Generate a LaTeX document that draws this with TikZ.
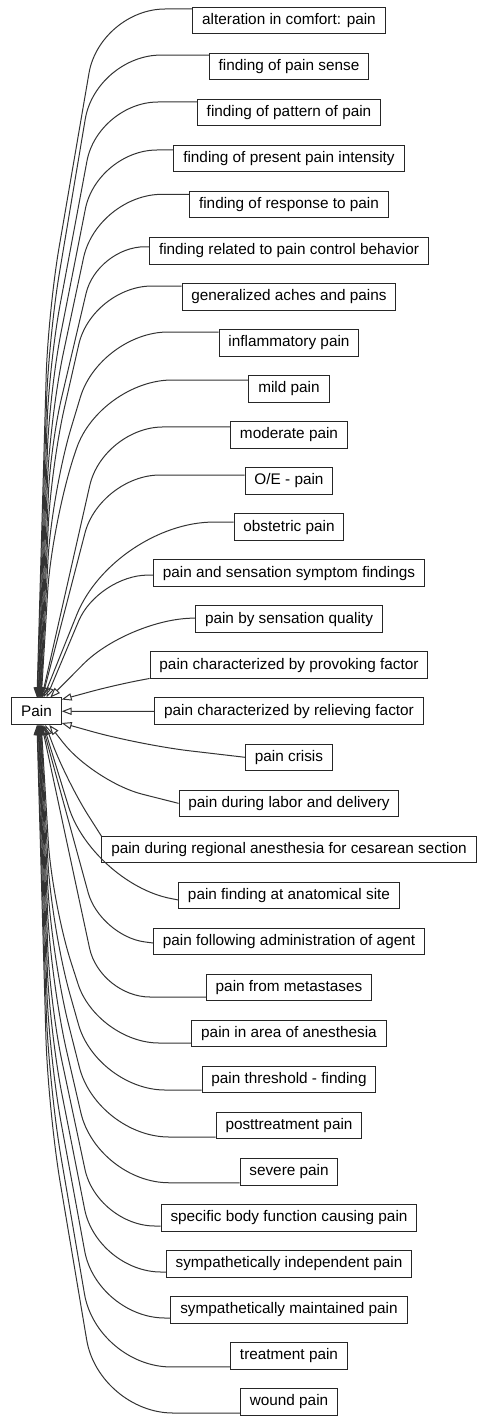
\documentclass[tikz,border=0pt]{standalone}
\usepackage{fontspec}
\setmainfont{Liberation Sans}
\usetikzlibrary{arrows.meta, calc}

\tikzset{
  concept/.style={draw=black!85, line width=0.75pt, fill=white,
    font=\fontsize{11.5}{13}\selectfont, inner xsep=7pt, inner ysep=2pt,
    minimum height=19.9pt},
  isa/.style={draw=black!80, line width=0.75pt,
    -{Triangle[open, length=7.5pt, width=5.5pt]}},
}

\begin{document}
\begin{tikzpicture}[x=0.75pt, y=-0.75pt]
  \useasboundingbox (0,0) rectangle (476,1416);
  % parent concept
  \node[concept] (pain) at (36.5,711.25) {Pain};
  % child concepts, one row every 46.05px
  \foreach \i/\txt in {0/alteration in comfort: pain, 1/finding of pain sense,
      2/finding of pattern of pain, 3/finding of present pain intensity,
      4/finding of response to pain, 5/finding related to pain control behavior,
      6/generalized aches and pains, 7/inflammatory pain, 8/mild pain,
      9/moderate pain, 10/{O/E - pain}, 11/obstetric pain,
      12/pain and sensation symptom findings, 13/pain by sensation quality,
      14/pain characterized by provoking factor,
      15/pain characterized by relieving factor, 16/pain crisis,
      17/pain during labor and delivery,
      18/pain during regional anesthesia for cesarean section,
      19/pain finding at anatomical site,
      20/pain following administration of agent, 21/pain from metastases,
      22/pain in area of anesthesia, 23/pain threshold - finding,
      24/posttreatment pain, 25/severe pain,
      26/specific body function causing pain,
      27/sympathetically independent pain,
      28/sympathetically maintained pain, 29/treatment pain, 30/wound pain}
    \node[concept] (c\i) at (289,{20.5+46.05*\i}) {\txt};
  % far rows: run left, bend, then a long tail into the bundle
  \foreach \i/\dy/\xa/\xb/\yb/\r/\a in {
      0/-11.5/100/48/312/65/88, 1/-11.5/96/48.5/338/65/86,
      2/-10.6/98/49/364/60/83, 3/-8.65/97/49.5/391/60/81,
      4/-10.4/97/50/416/65/79, 5/-4/97/50.5/445/48/77,
      6/-10.8/92/51/467/60/75, 7/-10.85/100/51.5/493/68/73,
      8/-8.9/100/52/520/72/71,
      22/9.4/97/52/903/62/-71, 23/10.35/97/51.5/929/68/-73,
      24/11.3/97/51/955/72/-75, 25/11/97/50.5/981/72/-77,
      26/8.2/97/50/1005/58/-79, 27/8.15/97/49.5/1031/64/-81,
      28/8.1/97/49/1057/68/-83, 29/11/97/48.5/1084/74/-86,
      30/11/99/48/1110/74/-88}
    \draw[isa, rounded corners=\r*0.75pt] ($(c\i.west)+(0,\dy)$)
      -- (\xa,{20.5+46.05*\i+\dy}) -- (\xb,\yb) -- (pain.\a);
  % near rows: a single bend
  \foreach \i/\dy/\xa/\ya/\r/\a in {
      9/-8/103/427/60/69, 10/-6/100/475/60/67, 11/-5/114/522/100/63,
      12/2/98/575/50/54, 13/-1/129/618/65/45, 14/13.25/115/685/25/25,
      16/0/140/745/50/-25, 17/0/94/782/50/-47, 18/-13.25/67/782/40/-57,
      19/4.5/92/883/80/-63, 20/1.5/100/936/45/-67, 21/9.45/100/997/50/-69}
    \draw[isa, rounded corners=\r*0.75pt] ($(c\i.west)+(0,\dy)$)
      -- (\xa,\ya) -- (pain.\a);
  \draw[isa] (c15) -- (pain);
\end{tikzpicture}
\end{document}
